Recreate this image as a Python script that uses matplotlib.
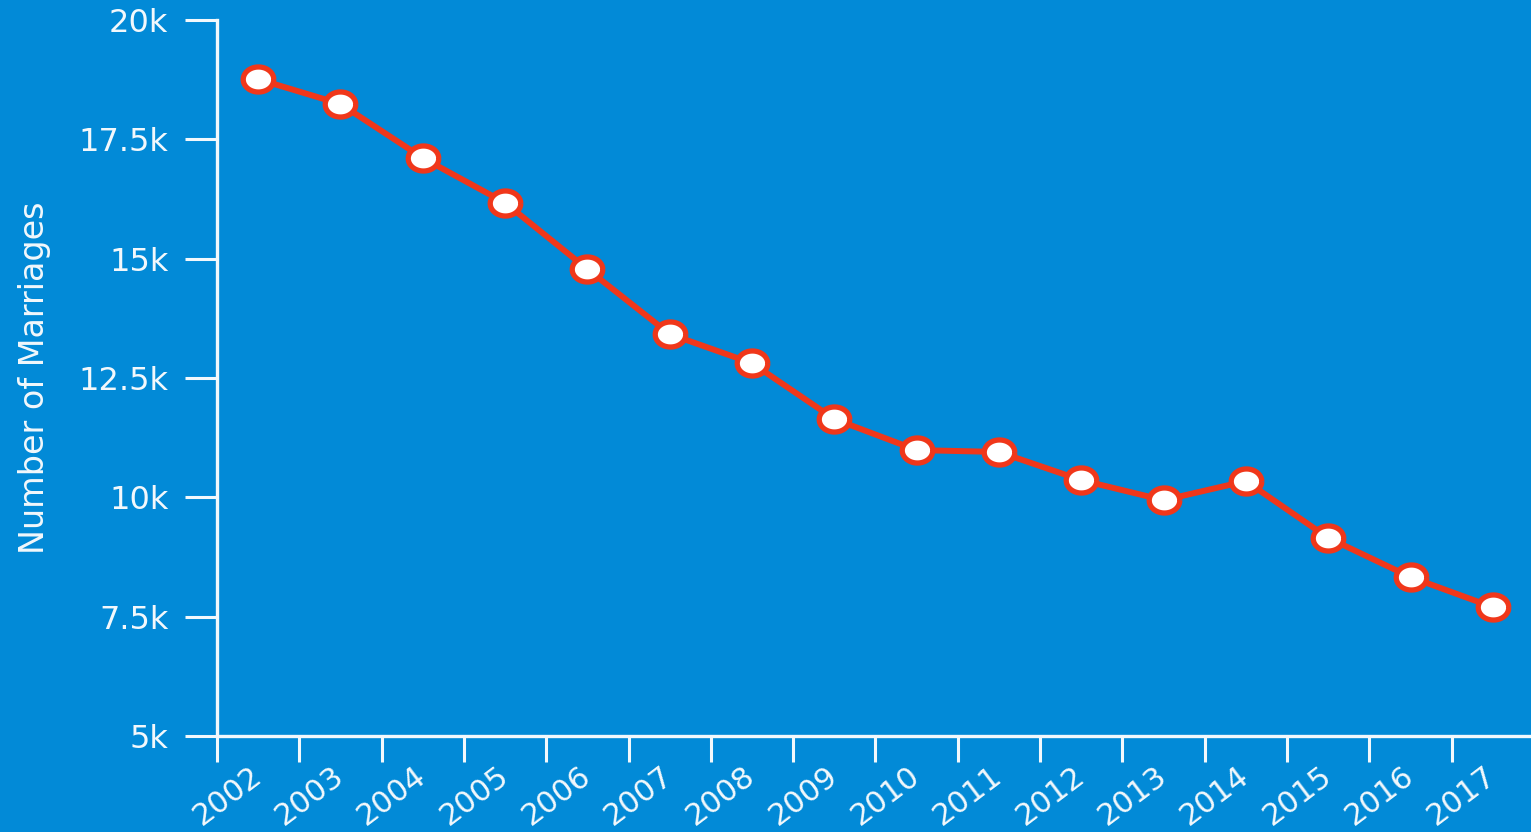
import numpy as np
import matplotlib
matplotlib.use("Agg")
import matplotlib.pyplot as plt
from matplotlib.path import Path
from matplotlib.ticker import FixedLocator, FuncFormatter

years = ["2002", "2003", "2004", "2005", "2006", "2007", "2008", "2009",
         "2010", "2011", "2012", "2013", "2014", "2015", "2016", "2017"]
marriages = [18760, 18240, 17110, 16170, 14780, 13420, 12810, 11640,
             10990, 10950, 10360, 9940, 10340, 9150, 8330, 7700]
y_ticks = [5000, 7500, 10000, 12500, 15000, 17500, 20000]

BG = "#028ad7"
FG = "#f2f8fc"
LINE = "#f0371a"

plt.rcParams["font.family"] = ["DejaVu Sans"]

fig = plt.figure(figsize=(15.31, 8.32), dpi=100, facecolor=BG)
ax = fig.add_axes([217 / 1531, 1 - 736 / 832, (1534 - 217) / 1531, (736 - 20) / 832])
ax.set_facecolor(BG)

# slightly wide oval marker
t = np.linspace(0, 2 * np.pi, 60)
oval = Path(np.column_stack([1.0 * np.cos(t), 0.82 * np.sin(t)]))

x = np.arange(len(years)) + 0.5
ax.plot(x, marriages, color=LINE, lw=4.3, zorder=3,
        marker=oval, markersize=22, markerfacecolor="white",
        markeredgecolor=LINE, markeredgewidth=3.8)

ax.set_xlim(0, len(years))
ax.set_ylim(5000, 20000)

for s in ["top", "right"]:
    ax.spines[s].set_visible(False)
for s in ["left", "bottom"]:
    ax.spines[s].set_color(FG)
    ax.spines[s].set_linewidth(2.4)

ax.yaxis.set_major_locator(FixedLocator(y_ticks))
ax.yaxis.set_major_formatter(FuncFormatter(lambda v, p: f"{v / 1000:g}k"))
ax.tick_params(axis="y", length=23, width=2.2, color=FG, labelcolor=FG,
               labelsize=23, pad=12)

# tick marks on band edges, labels at band centers
ax.xaxis.set_minor_locator(FixedLocator(np.arange(len(years))))
ax.xaxis.set_major_locator(FixedLocator(x))
ax.set_xticklabels(years)
ax.tick_params(axis="x", which="minor", length=19, width=2.2, color=FG)
ax.tick_params(axis="x", which="major", length=0, labelcolor=FG,
               labelsize=22, pad=26)
for lbl in ax.get_xticklabels():
    lbl.set_rotation(37)
    lbl.set_rotation_mode("anchor")
    lbl.set_ha("right")
    lbl.set_va("center")

ax.set_ylabel("Number of Marriages", color=FG, fontsize=24, labelpad=20)

fig.savefig("out.png", dpi=100, facecolor=BG)
